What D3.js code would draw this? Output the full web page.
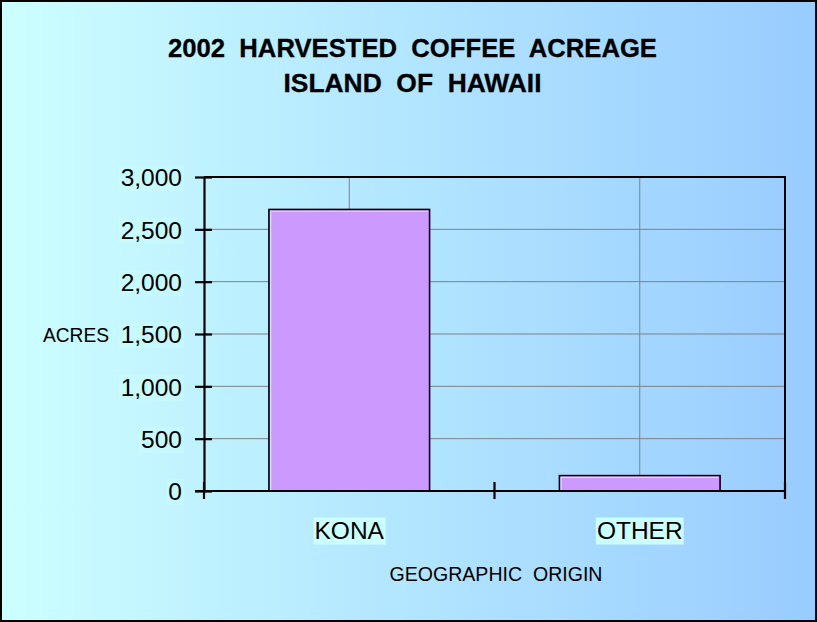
<!DOCTYPE html>
<html>
<head>
<meta charset="utf-8">
<script src="https://cdn.jsdelivr.net/npm/d3@7/dist/d3.min.js"></script>
<style>
  html, body { margin: 0; padding: 0; background: #ffffff; }
  svg { display: block; }
  text { font-family: "Liberation Sans", Arial, sans-serif; white-space: pre; }
</style>
</head>
<body>
<svg id="chart" width="817" height="622"></svg>
<script>
// ---- data ----
const categories = ["KONA", "OTHER"];
const acres = [2690, 147];
const yTicks = [0, 500, 1000, 1500, 2000, 2500, 3000];
const titleLines = ["2002  HARVESTED  COFFEE  ACREAGE", "ISLAND  OF  HAWAII"];
const yAxisTitle = "ACRES";
const xAxisTitle = "GEOGRAPHIC  ORIGIN";

const W = 817, H = 622;
const plot = { left: 204, right: 785, top: 177, bottom: 491 };

const svg = d3.select("#chart");
const defs = svg.append("defs");
const grad = defs.append("linearGradient").attr("id", "bg").attr("x1", "0").attr("x2", "1").attr("y1", "0").attr("y2", "0");
grad.append("stop").attr("offset", "0").attr("stop-color", "#ccffff");
grad.append("stop").attr("offset", "1").attr("stop-color", "#99ccff");

// background + outer border
svg.append("rect").attr("x", 1).attr("y", 1).attr("width", 815).attr("height", 620)
  .attr("fill", "url(#bg)").attr("stroke", "#000").attr("stroke-width", 2);

// title
const tl = [{ y: 57, len: 489 }, { y: 92, len: 258 }];
titleLines.forEach((t, i) => {
  svg.append("text").attr("x", 412.5).attr("y", tl[i].y)
    .attr("text-anchor", "middle")
    .attr("font-size", 25.5).attr("font-weight", "bold")
    .attr("textLength", tl[i].len).attr("lengthAdjust", "spacingAndGlyphs")
    .attr("stroke", "#000").attr("stroke-width", 0.3)
    .text(t);
});

// scales
const x = d3.scaleBand().domain(categories).range([plot.left, plot.right]).paddingInner(0.447).paddingOuter(0.2235);
const y = d3.scaleLinear().domain([0, 3000]).range([plot.bottom, plot.top]);
const boundaries = [plot.left, plot.left + (plot.right - plot.left) / 2, plot.right];

// gridlines
const g = svg.append("g");
g.selectAll("line.hg").data(yTicks.slice(1, -1)).join("line")
  .attr("x1", plot.left).attr("x2", plot.right)
  .attr("y1", d => y(d)).attr("y2", d => y(d))
  .attr("stroke", "#808080").attr("stroke-width", 1);
g.selectAll("line.vg").data(categories).join("line")
  .attr("x1", d => x(d) + x.bandwidth() / 2).attr("x2", d => x(d) + x.bandwidth() / 2)
  .attr("y1", plot.top).attr("y2", plot.bottom)
  .attr("stroke", "#808080").attr("stroke-width", 1);

// bars
const bars = svg.append("g");
bars.selectAll("rect").data(categories).join("rect")
  .attr("x", d => x(d)).attr("width", x.bandwidth())
  .attr("y", (d, i) => y(acres[i])).attr("height", (d, i) => y(0) - y(acres[i]))
  .attr("fill", "#cc99ff").attr("stroke", "#000").attr("stroke-width", 1.6);
// subtle highlight on top/left inner edges
bars.selectAll("path.hl").data(categories).join("path")
  .attr("d", (d, i) => `M${x(d) + 1.8},${y(0)} V${y(acres[i]) + 1.8} H${x(d) + x.bandwidth() - 1.5}`)
  .attr("fill", "none").attr("stroke", "#e8d8ff").attr("stroke-width", 1.2);

// plot frame (top & right border)
svg.append("path")
  .attr("d", `M${plot.left},${plot.top} H${plot.right} V${plot.bottom}`)
  .attr("fill", "none").attr("stroke", "#000").attr("stroke-width", 2);

// y axis
const yAxis = d3.axisLeft(y).tickValues(yTicks).tickSize(0).tickPadding(22)
  .tickFormat(d3.format(","));
const ya = svg.append("g").attr("transform", `translate(${plot.left},0)`).call(yAxis);
ya.select(".domain").attr("stroke", "#000").attr("stroke-width", 2.2);
ya.selectAll(".tick text").attr("font-size", 24.5).attr("fill", "#000")
  .attr("font-family", '"Liberation Sans", Arial, sans-serif').attr("dy", "0.36em");
ya.selectAll(".tick").append("line").attr("x1", -9).attr("x2", 8)
  .attr("stroke", "#000").attr("stroke-width", 2.2);
// label background boxes
ya.selectAll(".tick").each(function () {
  const t = d3.select(this).select("text").node();
  const bb = t.getBBox();
  d3.select(this).insert("rect", "text")
    .attr("x", bb.x - 2).attr("y", bb.y + 1).attr("width", bb.width + 4).attr("height", bb.height - 1)
    .attr("fill", "#ccffff").attr("opacity", 0.45);
});

// x axis
const xa = svg.append("g").attr("transform", `translate(0,${plot.bottom})`);
xa.append("line").attr("x1", plot.left - 9).attr("x2", plot.right)
  .attr("stroke", "#000").attr("stroke-width", 2.2);
xa.selectAll("line.tk").data(boundaries).join("line")
  .attr("x1", d => d).attr("x2", d => d).attr("y1", -9).attr("y2", 8)
  .attr("stroke", "#000").attr("stroke-width", 2.2);
const xl = xa.selectAll("g.lab").data(categories).join("g")
  .attr("transform", d => `translate(${x(d) + x.bandwidth() / 2},48)`);
xl.append("text").attr("text-anchor", "middle").attr("font-size", 24.5).text(d => d);
xl.each(function () {
  const t = d3.select(this).select("text").node();
  const bb = t.getBBox();
  d3.select(this).insert("rect", "text")
    .attr("x", bb.x - 1).attr("y", bb.y + 0.5).attr("width", bb.width + 2).attr("height", bb.height)
    .attr("fill", "#ccffff");
});

// axis titles
svg.append("text").attr("x", 43).attr("y", 342).attr("font-size", 21)
  .attr("textLength", 66).attr("lengthAdjust", "spacingAndGlyphs").text(yAxisTitle);
svg.append("text").attr("x", 496).attr("y", 581).attr("text-anchor", "middle").attr("font-size", 20)
  .attr("textLength", 213).attr("lengthAdjust", "spacingAndGlyphs").text(xAxisTitle);
</script>
</body>
</html>
